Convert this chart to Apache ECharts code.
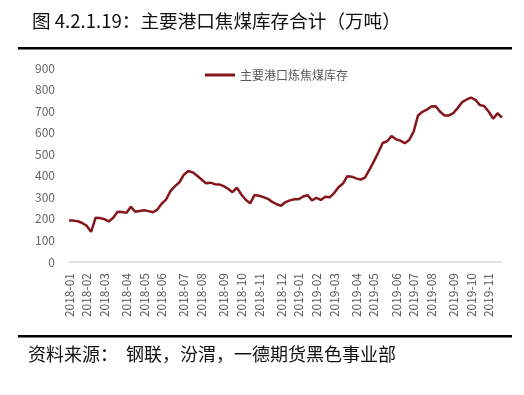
<!DOCTYPE html>
<html>
<head>
<meta charset="utf-8">
<script src="https://cdn.jsdelivr.net/npm/echarts@6/dist/echarts.min.js"></script>
<style>
html,body{margin:0;padding:0;background:#fff;}
#chart{width:524px;height:395px;}
</style>
</head>
<body>
<div id="chart"></div>
<script>
var titleText = '图 4.2.1.19：主要港口焦煤库存合计（万吨）';
var sourceText = '资料来源：  钢联，汾渭，一德期货黑色事业部';
var seriesName = '主要港口炼焦煤库存';

var dates = [
'2018-01-05','2018-01-12','2018-01-19','2018-01-26',
'2018-02-02','2018-02-09','2018-02-16','2018-02-23',
'2018-03-02','2018-03-09','2018-03-16','2018-03-23','2018-03-30',
'2018-04-06','2018-04-13','2018-04-20','2018-04-27',
'2018-05-04','2018-05-11','2018-05-18','2018-05-25',
'2018-06-01','2018-06-08','2018-06-15','2018-06-22','2018-06-29',
'2018-07-06','2018-07-13','2018-07-20','2018-07-27',
'2018-08-03','2018-08-10','2018-08-17','2018-08-24','2018-08-31',
'2018-09-07','2018-09-14','2018-09-21','2018-09-28',
'2018-10-05','2018-10-12','2018-10-19','2018-10-26',
'2018-11-02','2018-11-09','2018-11-16','2018-11-23','2018-11-30',
'2018-12-07','2018-12-14','2018-12-21','2018-12-28',
'2019-01-04','2019-01-11','2019-01-18','2019-01-25',
'2019-02-01','2019-02-08','2019-02-15','2019-02-22',
'2019-03-01','2019-03-08','2019-03-15','2019-03-22','2019-03-29',
'2019-04-05','2019-04-12','2019-04-19','2019-04-26',
'2019-05-03','2019-05-10','2019-05-17','2019-05-24','2019-05-31',
'2019-06-07','2019-06-14','2019-06-21','2019-06-28',
'2019-07-05','2019-07-12','2019-07-19','2019-07-26',
'2019-08-02','2019-08-09','2019-08-16','2019-08-23','2019-08-30',
'2019-09-06','2019-09-13','2019-09-20','2019-09-27',
'2019-10-04','2019-10-11','2019-10-18','2019-10-25',
'2019-11-01','2019-11-08','2019-11-15','2019-11-22'
];

var stock = [
193,192,189,181,168,140,205,204,199,188,
205,233,232,228,256,233,237,240,236,231,
243,271,291,330,352,370,405,422,416,400,
383,365,368,361,360,352,340,324,345,313,
289,272,311,307,301,293,279,268,261,278,
286,291,291,304,310,286,298,288,303,300,
320,347,364,398,396,388,382,392,428,467,
508,552,560,584,569,563,551,566,605,680,
697,707,721,723,697,680,680,691,715,742,
754,763,752,728,723,697,665,690,670
];

var yTicks = [0,100,200,300,400,500,600,700,800,900];

var chart = echarts.init(document.getElementById('chart'), null, {renderer:'canvas'});
var fontCJK = '"Noto Sans CJK SC", "Noto Sans", sans-serif';

chart.setOption({
  animation: false,
  backgroundColor: '#ffffff',
  textStyle: {fontFamily: fontCJK},
  title: {
    text: titleText,
    left: 27, top: 7,
    textStyle: {fontSize: 18.6, fontWeight: 'normal', color: '#111', fontFamily: fontCJK}
  },
  graphic: [
    {type:'rect', shape:{x:18, y:47, width:494, height:2.5}, style:{fill:'#000'}},
    {type:'rect', shape:{x:18, y:335, width:494, height:2.5}, style:{fill:'#000'}},
    {type:'text', left: 28, top: 345, style:{text: sourceText, fill:'#111', font: '18px "Noto Sans CJK SC", sans-serif'}}
  ],
  legend: {
    data: [seriesName],
    top: 64, left: 200,
    itemWidth: 30, itemHeight: 12, itemGap: 3,
    icon: 'path://M0,5 L30,5 L30,8 L0,8 Z',
    textStyle: {fontSize: 12, color: '#595959', fontFamily: fontCJK}
  },
  grid: {left: 69, right: 22, top: 68, bottom: 133, containLabel: false},
  xAxis: {
    type: 'category',
    data: dates,
    boundaryGap: false,
    axisLine: {show: true, lineStyle: {color: '#d9d9d9', width: 1.5}},
    axisTick: {show: false},
    splitLine: {show: false},
    axisLabel: {
      rotate: 90,
      margin: 11,
      fontSize: 12,
      color: '#595959',
      interval: function(index, value){
        if (index === 0) return true;
        return dates[index].slice(0,7) !== dates[index-1].slice(0,7);
      },
      formatter: function(v){ return v.slice(0,7); }
    }
  },
  yAxis: {
    type: 'value',
    min: yTicks[0], max: yTicks[yTicks.length-1], interval: 100,
    axisLine: {show: false},
    axisTick: {show: false},
    splitLine: {show: false},
    axisLabel: {fontSize: 12, color: '#666666', margin: 14}
  },
  series: [{
    name: seriesName,
    type: 'line',
    data: stock,
    showSymbol: false,
    symbol: 'none',
    lineStyle: {color: '#85161C', width: 2.5},
    itemStyle: {color: '#85161C'}
  }]
});
</script>
</body>
</html>
